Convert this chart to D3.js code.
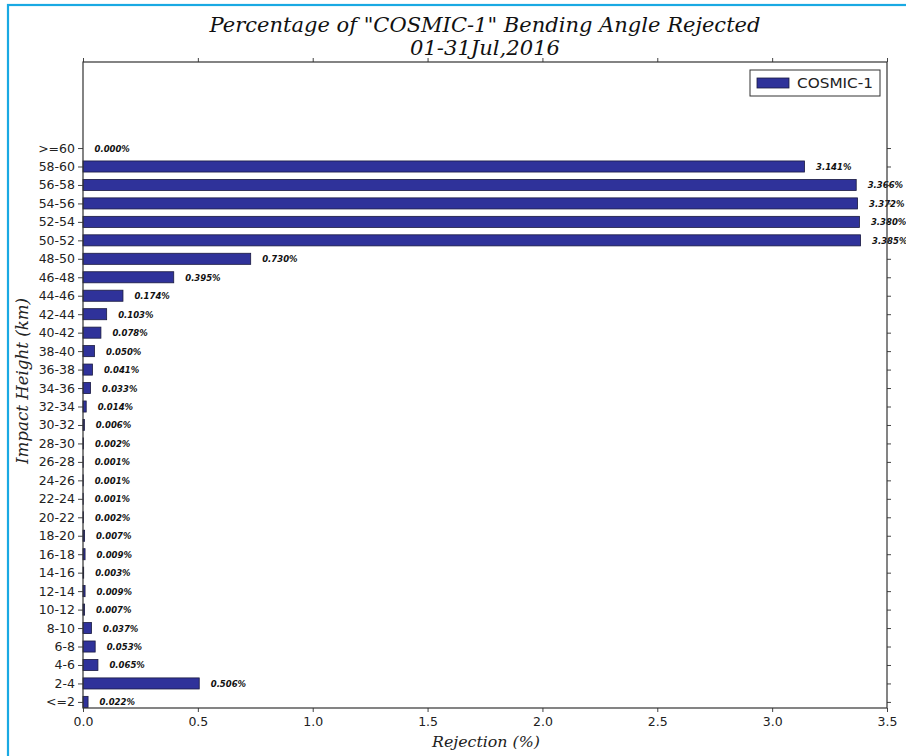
<!DOCTYPE html>
<html><head><meta charset="utf-8">
<script src="https://cdn.jsdelivr.net/npm/d3@7"></script>
<style>body{margin:0;background:#fff}svg{display:block}</style>
</head><body>
<svg id="c" width="906" height="756"></svg>
<script>
const categories = ["<=2","2-4","4-6","6-8","8-10","10-12","12-14","14-16","16-18","18-20","20-22","22-24","24-26","26-28","28-30","30-32","32-34","34-36","36-38","38-40","40-42","42-44","44-46","46-48","48-50","50-52","52-54","54-56","56-58","58-60",">=60"];
const rejection = [0.022,0.506,0.065,0.053,0.037,0.007,0.009,0.003,0.009,0.007,0.002,0.001,0.001,0.001,0.002,0.006,0.014,0.033,0.041,0.050,0.078,0.103,0.174,0.395,0.730,3.385,3.380,3.372,3.366,3.141,0.000];
const xTicks = [0,0.5,1.0,1.5,2.0,2.5,3.0,3.5];
const seriesName = "COSMIC-1";
const titleLines = ['Percentage of "COSMIC-1" Bending Angle Rejected','01-31Jul,2016'];

const svg = d3.select("#c");
const L=83, R=887, T=62, B=708;
const x = d3.scaleLinear().domain([0,3.5]).range([L,R]);
const y = d3.scaleLinear().domain([-0.33,34.66]).range([B,T]);
const barH = y(0)-y(0.6);
const color = "#2f329a";

// outer cyan frame
svg.append("rect").attr("x",8).attr("y",5).attr("width",920).attr("height",780)
  .attr("fill","none").attr("stroke","#19a9e3").attr("stroke-width",2.2);

// bars
svg.append("g").selectAll("rect").data(rejection).join("rect")
  .attr("x",x(0)).attr("y",(d,i)=>y(i)-barH/2)
  .attr("width",d=>Math.max(0,x(d)-x(0))).attr("height",barH)
  .attr("fill",color).attr("stroke","#1a1a40").attr("stroke-width",0.8);

// value labels
svg.append("g").selectAll("text").data(rejection).join("text")
  .attr("x",d=>x(d+0.05)).attr("y",(d,i)=>y(i)+3.5)
  .attr("font-family","DejaVu Sans").attr("font-size",8.5)
  .attr("font-weight","bold").attr("font-style","italic").attr("fill","#111")
  .text(d=>d.toFixed(3)+"%");

// axes
const axStyle = g=>{g.select(".domain").remove();g.selectAll("line").attr("stroke","#444");
  g.selectAll("text").attr("font-family","DejaVu Sans").attr("font-size",12.5).attr("fill","#222");};
svg.append("g").attr("transform",`translate(0,${B})`)
  .call(d3.axisBottom(x).tickValues(xTicks).tickFormat(d3.format(".1f")).tickSize(4).tickPadding(5)).call(axStyle);
svg.append("g").attr("transform",`translate(0,${T})`)
  .call(d3.axisTop(x).tickValues(xTicks).tickFormat("").tickSize(4)).call(axStyle);
svg.append("g").attr("transform",`translate(${L},0)`)
  .call(d3.axisLeft(y).tickValues(d3.range(categories.length)).tickFormat(i=>categories[i]).tickSize(5).tickPadding(3)).call(axStyle);
svg.append("g").attr("transform",`translate(${R},0)`)
  .call(d3.axisRight(y).tickValues(d3.range(categories.length)).tickFormat("").tickSize(4)).call(axStyle);

// frame
svg.append("rect").attr("x",L).attr("y",T).attr("width",R-L).attr("height",B-T)
  .attr("fill","none").attr("stroke","#333").attr("stroke-width",1.2);

// titles
svg.append("text").attr("x",485).attr("y",32).attr("text-anchor","middle")
  .attr("font-family","DejaVu Serif").attr("font-style","italic").attr("font-size",20)
  .attr("textLength",551).attr("lengthAdjust","spacingAndGlyphs").attr("fill","#111").text(titleLines[0]);
svg.append("text").attr("x",485).attr("y",55).attr("text-anchor","middle")
  .attr("font-family","DejaVu Serif").attr("font-style","italic").attr("font-size",20)
  .attr("textLength",150).attr("lengthAdjust","spacingAndGlyphs").attr("fill","#111").text(titleLines[1]);

svg.append("text").attr("x",486).attr("y",747).attr("text-anchor","middle")
  .attr("font-family","DejaVu Serif").attr("font-style","italic").attr("font-size",15.5)
  .attr("textLength",108).attr("lengthAdjust","spacingAndGlyphs")
  .attr("fill","#222").text("Rejection (%)");
svg.append("text").attr("transform","translate(28,381) rotate(-90)").attr("text-anchor","middle")
  .attr("font-family","DejaVu Serif").attr("font-style","italic").attr("font-size",16.5)
  .attr("textLength",166).attr("lengthAdjust","spacingAndGlyphs")
  .attr("fill","#222").text("Impact Height (km)");

// legend
const lg = svg.append("g");
lg.append("rect").attr("x",750).attr("y",70).attr("width",130).attr("height",26)
  .attr("fill","#fff").attr("stroke","#333").attr("stroke-width",1);
lg.append("rect").attr("x",757).attr("y",78).attr("width",32).attr("height",10)
  .attr("fill",color).attr("stroke","#1a1a40").attr("stroke-width",0.8);
lg.append("text").attr("x",797).attr("y",88).attr("font-family","DejaVu Sans").attr("font-size",13.5)
  .attr("textLength",76).attr("lengthAdjust","spacingAndGlyphs").attr("fill","#222").text(seriesName);
</script>
</body></html>
